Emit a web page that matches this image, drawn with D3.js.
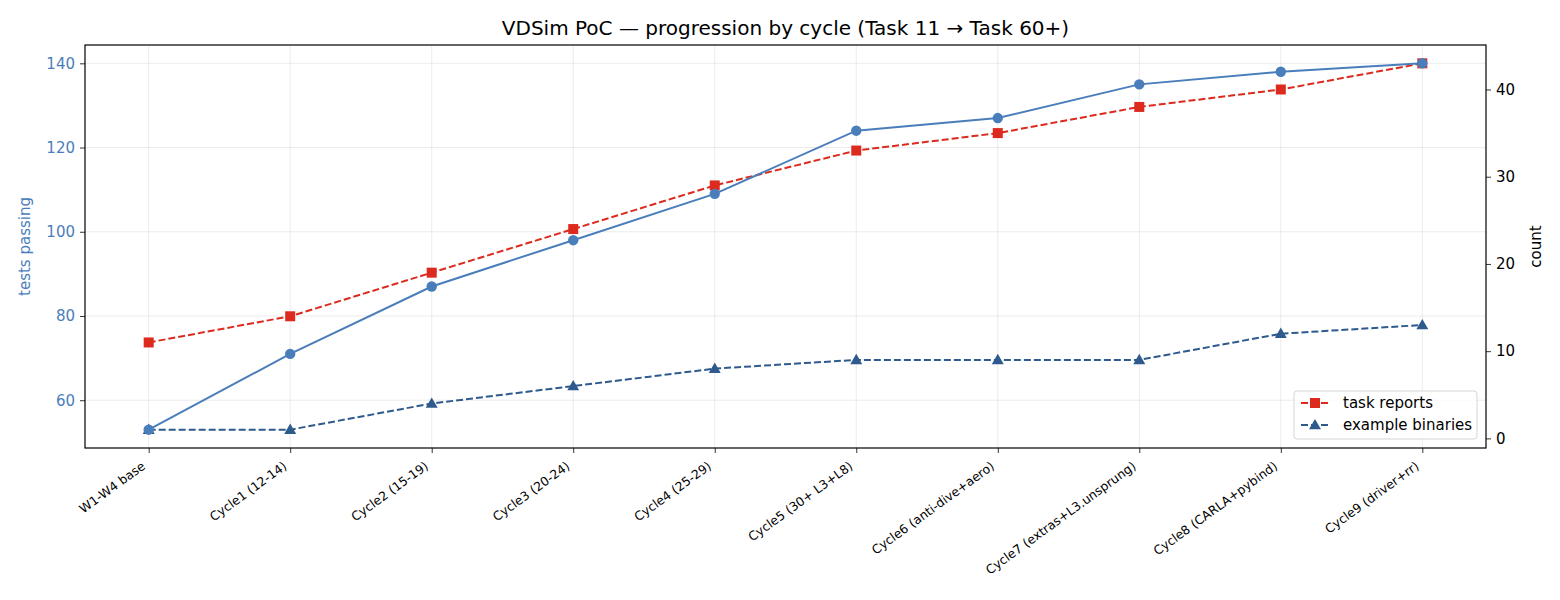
<!DOCTYPE html>
<html>
<head>
<meta charset="utf-8">
<script src="https://cdn.jsdelivr.net/npm/d3@7"></script>
<style>
  body { margin: 0; background: #fff; }
  svg { font-family: "DejaVu Sans", sans-serif; }
</style>
</head>
<body>
<div id="chart"></div>
<script>
// ---- data
const cycles = ["W1-W4 base", "Cycle1 (12-14)", "Cycle2 (15-19)", "Cycle3 (20-24)", "Cycle4 (25-29)",
  "Cycle5 (30+ L3+L8)", "Cycle6 (anti-dive+aero)", "Cycle7 (extras+L3.unsprung)",
  "Cycle8 (CARLA+pybind)", "Cycle9 (driver+rr)"];
const testsPassing = [53, 71, 87, 98, 109, 124, 127, 135, 138, 140];
const taskReports = [11, 14, 19, 24, 29, 33, 35, 38, 40, 43];
const exampleBinaries = [1, 1, 4, 6, 8, 9, 9, 9, 12, 13];
const leftTicks = [60, 80, 100, 120, 140];
const rightTicks = [0, 10, 20, 30, 40];

// ---- measurements
const width = 1560, height = 600;
const margin = { top: 45, right: 74, bottom: 152, left: 85 };
const bw = width - margin.left - margin.right;
const bh = height - margin.top - margin.bottom;

const blue = "#4a7ebb", red = "#dc2a1e", navy = "#2e5a8e";
const font = "DejaVu Sans, sans-serif";

const svg = d3.select("#chart").append("svg")
  .attr("width", width).attr("height", height);
const bounds = svg.append("g")
  .attr("transform", `translate(${margin.left},${margin.top})`);

// ---- scales (5% padding like matplotlib)
const x = d3.scaleLinear().domain([-0.45, cycles.length - 1 + 0.45]).range([0, bw]);
const yL = d3.scaleLinear().domain([53 - 87 * 0.05, 140 + 87 * 0.05]).range([bh, 0]);
const yR = d3.scaleLinear().domain([1 - 42 * 0.05, 43 + 42 * 0.05]).range([bh, 0]);

// ---- grid
bounds.append("g").selectAll("line").data(cycles).join("line")
  .attr("x1", (d, i) => x(i)).attr("x2", (d, i) => x(i))
  .attr("y1", 0).attr("y2", bh)
  .attr("stroke", "#b0b0b0").attr("stroke-opacity", 0.3).attr("stroke-width", 0.8);
bounds.append("g").selectAll("line").data(leftTicks).join("line")
  .attr("x1", 0).attr("x2", bw)
  .attr("y1", d => yL(d)).attr("y2", d => yL(d))
  .attr("stroke", "#b0b0b0").attr("stroke-opacity", 0.3).attr("stroke-width", 0.8);

// ---- axes
const xAxis = bounds.append("g")
  .attr("transform", `translate(0,${bh})`)
  .call(d3.axisBottom(x).tickValues(d3.range(cycles.length)).tickFormat(i => cycles[i])
    .tickSize(5).tickPadding(4));
xAxis.selectAll("text")
  .attr("font-size", 12.4).attr("fill", "#000")
  .attr("text-anchor", "end")
  .attr("y", 0).attr("dy", 0)
  .attr("transform", "translate(-3,20) rotate(-36)");

const leftAxis = bounds.append("g")
  .call(d3.axisLeft(yL).tickValues(leftTicks).tickSize(5).tickPadding(5));
leftAxis.selectAll("text").attr("font-size", 15).attr("fill", blue);

const rightAxis = bounds.append("g")
  .attr("transform", `translate(${bw},0)`)
  .call(d3.axisRight(yR).tickValues(rightTicks).tickSize(5).tickPadding(5));
rightAxis.selectAll("text").attr("font-size", 15).attr("fill", "#000");

[xAxis, leftAxis, rightAxis].forEach(a => {
  a.attr("font-family", font);
  a.select(".domain").remove();
  a.selectAll(".tick line").attr("stroke", "#000").attr("stroke-width", 0.8);
});

// frame
bounds.append("rect")
  .attr("width", bw).attr("height", bh)
  .attr("fill", "none").attr("stroke", "#000").attr("stroke-width", 1.2);

// ---- lines
const lineR = d3.line().x((d, i) => x(i)).y(d => yR(d));
const lineL = d3.line().x((d, i) => x(i)).y(d => yL(d));

bounds.append("path").datum(taskReports)
  .attr("d", lineR).attr("fill", "none")
  .attr("stroke", red).attr("stroke-width", 2).attr("stroke-dasharray", "7,3");
bounds.append("g").selectAll("rect").data(taskReports).join("rect")
  .attr("x", (d, i) => x(i) - 5).attr("y", d => yR(d) - 5)
  .attr("width", 10).attr("height", 10).attr("fill", red);

const tri = d3.symbol().type(d3.symbolTriangle).size(62);
bounds.append("path").datum(exampleBinaries)
  .attr("d", lineR).attr("fill", "none")
  .attr("stroke", navy).attr("stroke-width", 2).attr("stroke-dasharray", "7,3");
bounds.append("g").selectAll("path").data(exampleBinaries).join("path")
  .attr("d", tri)
  .attr("transform", (d, i) => `translate(${x(i)},${yR(d) + 0.8})`)
  .attr("fill", navy);

bounds.append("path").datum(testsPassing)
  .attr("d", lineL).attr("fill", "none")
  .attr("stroke", blue).attr("stroke-width", 2);
bounds.append("g").selectAll("circle").data(testsPassing).join("circle")
  .attr("cx", (d, i) => x(i)).attr("cy", d => yL(d))
  .attr("r", 5.2).attr("fill", blue);

// ---- labels
svg.append("text")
  .attr("x", margin.left + bw / 2).attr("y", 35)
  .attr("text-anchor", "middle").attr("font-size", 20)
  .text("VDSim PoC — progression by cycle (Task 11 → Task 60+)");

svg.append("text")
  .attr("transform", `translate(30,${margin.top + bh / 2}) rotate(-90)`)
  .attr("text-anchor", "middle").attr("font-size", 15).attr("fill", blue)
  .text("tests passing");

svg.append("text")
  .attr("transform", `translate(1541,${margin.top + bh / 2}) rotate(-90)`)
  .attr("text-anchor", "middle").attr("font-size", 15).attr("fill", "#000")
  .text("count");

// ---- legend
const legendItems = [
  { name: "task reports", color: red, shape: "square" },
  { name: "example binaries", color: navy, shape: "triangle" }
];
const legend = svg.append("g").attr("transform", `translate(1294,391)`);
legend.append("rect")
  .attr("width", 183).attr("height", 48).attr("rx", 3)
  .attr("fill", "#fff").attr("fill-opacity", 0.8)
  .attr("stroke", "#d5d5d5").attr("stroke-width", 1);
const li = legend.selectAll("g").data(legendItems).join("g")
  .attr("transform", (d, i) => `translate(7,${12 + i * 22})`);
li.append("line")
  .attr("x1", 0).attr("x2", 28).attr("y1", 0).attr("y2", 0)
  .attr("stroke", d => d.color).attr("stroke-width", 2).attr("stroke-dasharray", "7,3");
li.append("path")
  .attr("d", d => d.shape === "square"
    ? d3.symbol().type(d3.symbolSquare).size(100)()
    : tri())
  .attr("transform", d => `translate(14,${d.shape === "square" ? 0 : 0.8})`)
  .attr("fill", d => d.color);
li.append("text")
  .attr("x", 42).attr("y", 0).attr("dy", "0.35em")
  .attr("font-size", 15).attr("fill", "#000")
  .text(d => d.name);
</script>
</body>
</html>
